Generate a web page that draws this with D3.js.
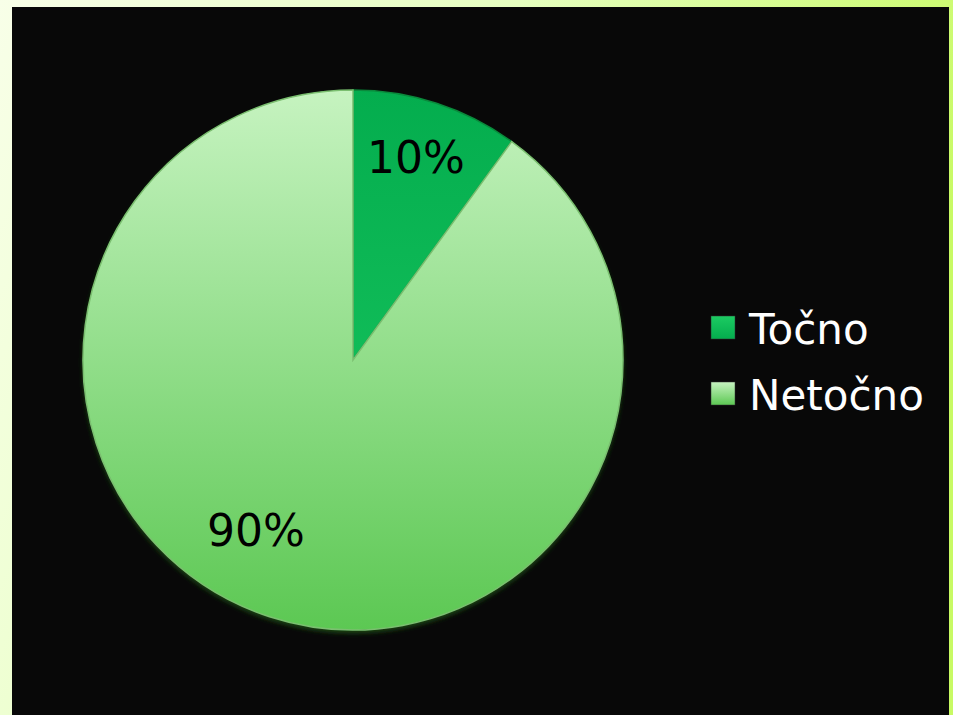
<!DOCTYPE html>
<html>
<head>
<meta charset="utf-8">
<script src="https://cdn.jsdelivr.net/npm/d3@7"></script>
<style>
  body { margin: 0; background: #fff; }
  svg { display: block; font-family: "DejaVu Sans", Verdana, sans-serif; }
</style>
</head>
<body>
<svg id="chart" width="953" height="715"></svg>
<script>
// chart data
const categories = ['Točno', 'Netočno']
const values = [10, 90]
const labels = ['10%', '90%']

const W = 953
const H = 715
const cx = 353
const cy = 360
const radius = 270

const svg = d3.select('#chart')
const defs = svg.append('defs')

// frame gradient, pale at left going to lime on the right
const frameGrad = defs.append('linearGradient')
  .attr('id', 'frame').attr('x1', '0').attr('y1', '0').attr('x2', '1').attr('y2', '0.3')
frameGrad.append('stop').attr('offset', '0').attr('stop-color', '#f8ffe8')
frameGrad.append('stop').attr('offset', '0.5').attr('stop-color', '#e6ffc0')
frameGrad.append('stop').attr('offset', '1').attr('stop-color', '#c8fa64')

const sliceGrads = [
  ['#04ad4e', '#1ccb62'],
  ['#c6f3c0', '#5cc853']
]
sliceGrads.forEach((c, i) => {
  const g = defs.append('linearGradient')
    .attr('id', 'slice' + i)
    .attr('gradientUnits', 'userSpaceOnUse')
    .attr('x1', 0).attr('y1', cy - radius).attr('x2', 0).attr('y2', cy + radius)
  g.append('stop').attr('offset', '0').attr('stop-color', c[0])
  g.append('stop').attr('offset', '1').attr('stop-color', c[1])
})

const shadow = defs.append('filter').attr('id', 'soft')
  .attr('x', '-10%').attr('y', '-10%').attr('width', '120%').attr('height', '120%')
shadow.append('feGaussianBlur').attr('stdDeviation', 2.5)

svg.append('rect').attr('width', W).attr('height', H).attr('fill', 'url(#frame)')
svg.append('rect').attr('x', 12).attr('y', 7).attr('width', 937).attr('height', H - 7)
  .attr('fill', '#080808')

const pie = d3.pie().sort(null).value(d => d)
const arcs = pie(values)

const g = svg.append('g').attr('transform', `translate(${cx},${cy})`)

// dark rim under the pie
g.append('circle').attr('r', radius).attr('cy', 3)
  .attr('fill', '#1a4a14').attr('filter', 'url(#soft)')

g.selectAll('path.slice')
  .data(arcs)
  .enter().append('path')
    .attr('class', 'slice')
    .attr('transform', `translate(${-cx},${-cy})`)
    .attr('d', d => {
      const p = d3.path()
      const a0 = d.startAngle - Math.PI / 2
      const a1 = d.endAngle - Math.PI / 2
      p.moveTo(cx, cy)
      p.lineTo(cx + radius * Math.cos(a0), cy + radius * Math.sin(a0))
      p.arc(cx, cy, radius, a0, a1)
      p.closePath()
      return p.toString()
    })
    .attr('fill', (d, i) => `url(#slice${i})`)
    .attr('stroke', (d, i) => i === 0 ? '#0a8a3c' : '#7bbf70')
    .attr('stroke-width', 1.5)

const labelPos = [[416, 173], [256, 546]]
g.selectAll('text.pct')
  .data(arcs)
  .enter().append('text')
    .attr('class', 'pct')
    .attr('x', (d, i) => labelPos[i][0] - cx)
    .attr('y', (d, i) => labelPos[i][1] - cy)
    .attr('text-anchor', 'middle')
    .attr('font-size', 44)
    .attr('fill', '#000')
    .text((d, i) => labels[i])

// legend
categories.forEach((c, i) => {
  const lg = defs.append('linearGradient').attr('id', 'leg' + i)
    .attr('x1', 0).attr('y1', 0).attr('x2', 0).attr('y2', 1)
  lg.append('stop').attr('offset', 0).attr('stop-color', sliceGrads[i][i === 0 ? 1 : 0])
  lg.append('stop').attr('offset', 1).attr('stop-color', sliceGrads[i][i === 0 ? 0 : 1])
})
const legend = svg.append('g').attr('transform', 'translate(711,316)')
const rowH = 66
const item = legend.selectAll('g')
  .data(categories)
  .enter().append('g')
    .attr('transform', (d, i) => `translate(0,${i * rowH})`)
item.append('rect')
  .attr('width', 24).attr('height', 23)
  .attr('fill', (d, i) => `url(#leg${i})`)
  .attr('stroke', '#333').attr('stroke-width', 0.5)
item.append('text')
  .attr('x', 38).attr('y', 28)
  .attr('font-size', 42)
  .attr('fill', '#fff')
  .text(d => d)
</script>
</body>
</html>
